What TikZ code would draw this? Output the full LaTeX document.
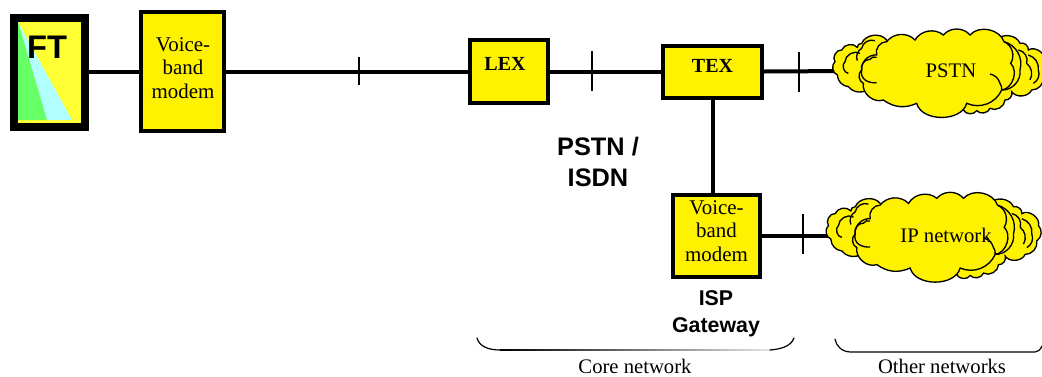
\documentclass[tikz,border=0pt]{standalone}
\usepackage{fontspec}
\usetikzlibrary{calc}
\setmainfont{Liberation Serif}
\newfontfamily\arialf{Liberation Sans}
\tikzset{
  x=0.75pt,y=-0.75pt,
  ybox/.style={draw=black,fill=yellow,line width=3pt,inner sep=0pt},
  boxtext/.style={inner sep=0pt,align=center,font=\fontsize{15.7}{18}\selectfont},
  exch/.style={inner sep=0pt,font=\bfseries\fontsize{15}{17}\selectfont},
  wire/.style={line width=3pt},
  tick/.style={line width=0.8pt},
  blob/.style={draw=black,fill=yellow,line width=1pt},
  inl/.style={draw=black,line width=1pt},
  boldlab/.style={font=\arialf\bfseries\fontsize{19}{23}\selectfont,align=center,inner sep=0pt},
  isplab/.style={font=\arialf\bfseries\fontsize{16}{20}\selectfont,align=center,inner sep=0pt},
  plainlab/.style={font=\fontsize{15.5}{18}\selectfont,inner sep=0pt},
  brace/.style={line width=0.9pt,line cap=round},
}
\newcommand{\cloudpaths}{%
  % back right
  \path[blob] (650,60) to[bend left=60] (720,70) to[bend left=60] (745,90) to[bend left=70] (795,125)
     to[bend left=50] (790,170) to[bend left=50] (755,210) to[bend left=60] (695,215)
     to[bend left=60] (675,240) to[bend left=60] (630,265) to[bend left=60] (590,272) to[bend left=60] (550,270)
     -- (560,150) -- cycle;
  \path[inl] (715,90) to[bend left=50] (740,130) to[bend left=40] (750,180);
  \path[inl] (745,105) to[bend left=40] (775,150) to[bend left=40] (760,190);
  % back left
  \path[blob] (320,60) to[bend right=60] (245,70) to[bend right=50] (232,82) to[bend right=60] (185,90)
     to[bend right=70] (165,125) to[bend right=60] (172,165) to[bend right=40] (205,200) to[bend right=30] (250,215)
     -- (400,150) -- cycle;
  \path[inl] (240,100) to[bend right=60] (195,125) to[bend right=70] (205,160) ;
  \path[inl] (285,62) to[bend right=50] (245,85) to[bend right=40] (232,122);
  % main
  \path[blob] (245,150) to[bend left=50] (290,105) to[bend left=55] (320,65) to[bend left=50] (405,60)
     to[bend left=50] (490,45) to[bend left=50] (570,45) to[bend left=60] (672,65) to[bend left=50] (692,130)
     to[bend left=65] (665,210) to[bend left=45] (560,250) to[bend left=75] (410,250) to[bend left=30] (310,240)
     to[bend left=60] (250,190) to[bend left=60] cycle;
  \path[inl] (290,112) to[bend right=40] (270,118) to[bend right=55] (245,150) to[bend right=35] (258,182) to[bend right=15] (290,188);
  \path[inl] (672,65) to[bend left=45] (720,150) to[bend left=50] (665,210);
  \path[inl] (630,162) to[bend left=30] (660,190) to[bend left=20] (665,210);
}
\begin{document}
\begin{tikzpicture}
\useasboundingbox (0,0) rectangle (1042,376);
% nodes
\node[draw=black,fill={rgb,255:red,255;green,255;blue,51},line width=6pt,minimum width=53.25pt,minimum height=81.75pt,inner sep=0pt] (ft) at (49.5,72.5) {};
\fill[fill={rgb,255:red,178;green,255;blue,255}] (18,22) -- (72,120) -- (47,120) -- cycle;
\fill[fill={rgb,255:red,102;green,255;blue,102}] (18,22) -- (47,120) -- (18,120) -- cycle;
\node[font=\arialf\bfseries\fontsize{24.5}{26}\selectfont,inner sep=0pt] (ftl) at (47,47) {FT};
\node[ybox,minimum width=62pt,minimum height=89pt] (m1) at (182.5,71.5) {};
\node[boxtext] (m1t) at (183,68) {Voice-\\[-0.5pt]band\\[-0.5pt]modem};
\node[ybox,minimum width=58.5pt,minimum height=47pt] (lex) at (509,71.5) {};
\node[exch] (lext) at (505,64) {LEX};
\node[ybox,minimum width=74pt,minimum height=39pt] (tex) at (712.5,72) {};
\node[exch] (text) at (712.5,66) {TEX};
\node[ybox,minimum width=65pt,minimum height=61.5pt] (m2) at (716.5,236) {};
\node[boxtext] (m2t) at (716.5,231) {Voice-\\[-0.5pt]band\\[-0.5pt]modem};
% free ends
\coordinate (c1) at (850,71);
\coordinate (c2) at (850,236);
% ticks
\coordinate (t1a) at (359,57); \coordinate (t1b) at (359,85);
\coordinate (t2a) at (592,51); \coordinate (t2b) at (592,91);
\coordinate (t3a) at (799,52); \coordinate (t3b) at (799,92);
\coordinate (t4a) at (803,214); \coordinate (t4b) at (803,254);
% connectors
\draw[wire] (ft.east |- m1.west) -- (m1.west);
\draw[wire] (m1.east) -- (lex.west);
\draw[wire] (lex.east) -- (tex.west |- lex.east);
\draw[wire] (tex.east |- lex.east) -- (c1);
\draw[wire] (tex.south) -- (m2.north -| tex.south);
\draw[wire] (m2.east) -- (c2);
\foreach \t in {1,2,3,4} \draw[tick] (t\t a) -- (t\t b);
% clouds
\begin{scope}[shift={(780,20)},x=0.25pt,y=-0.25pt]\cloudpaths\end{scope}
\begin{scope}[shift={(773.5,183)},x=0.25pt,y=-0.255pt]\cloudpaths\end{scope}
\node[plainlab] (pstn) at (951,71) {PSTN};
\node[plainlab] (ipn) at (946,235) {IP network};
% labels
\node[boldlab] (core) at (598,162) {PSTN /\\ISDN};
\node[isplab] (isp) at (716,313.5) {ISP\\Gateway};
\node[plainlab] (cn) at (635,366) {Core network};
\node[plainlab] (on) at (942,366) {Other networks};
% brackets
\coordinate (b1a) at (477,338); \coordinate (b1b) at (500,350); \coordinate (b1c) at (770,350); \coordinate (b1d) at (794,338);
\draw[brace] (b1a) .. controls (479,346) and (488,350) .. (b1b);
\shade[left color=black,right color=black!10] ($(b1b)+(0,-0.7)$) rectangle ($(b1c)+(0,0.7)$);
\draw[brace] (b1c) .. controls (782,349) and (791,346) .. (b1d);
\coordinate (b2a) at (835,339); \coordinate (b2b) at (851,352); \coordinate (b2c) at (1035,352); \coordinate (b2d) at (1042,346);
\draw[brace] (b2a) .. controls (836,346) and (842,352) .. (b2b) -- (b2c) .. controls (1038,352) and (1040,350) .. (b2d);
\end{tikzpicture}
\end{document}
